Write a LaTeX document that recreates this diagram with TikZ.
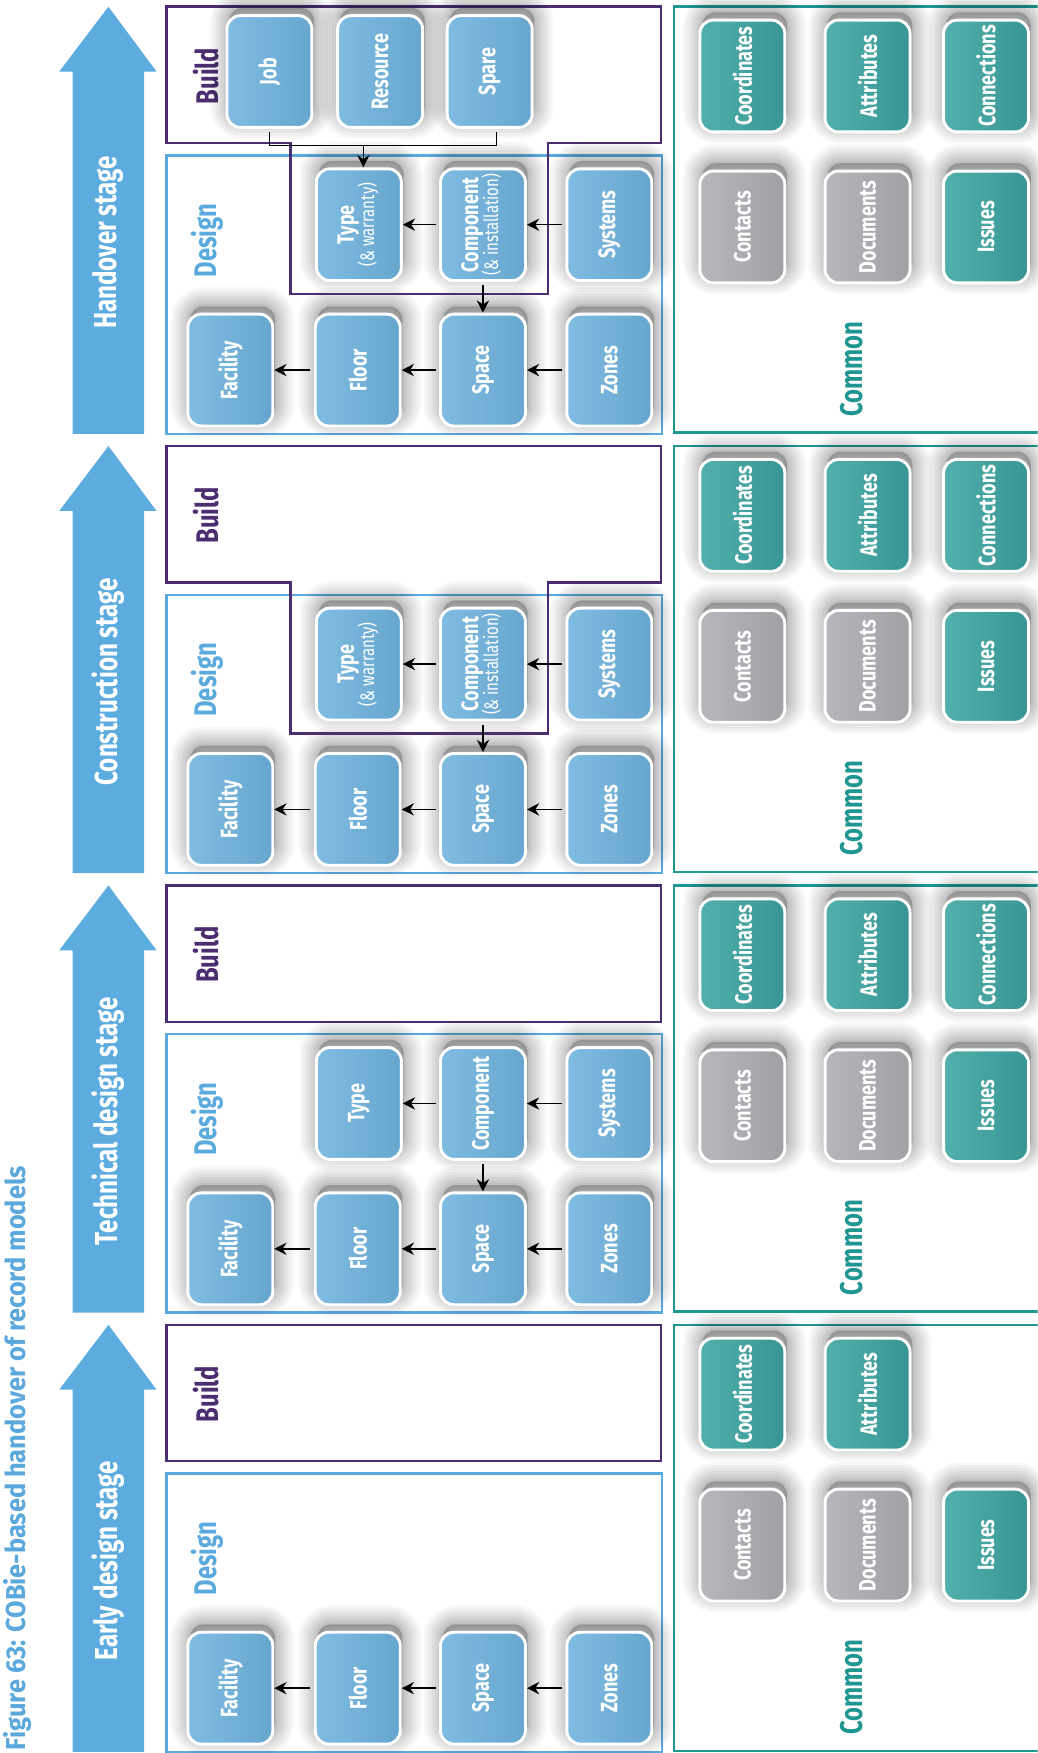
\documentclass[tikz,border=0pt]{standalone}
\usepackage{fontspec}
\usepackage{graphicx}
\usetikzlibrary{arrows.meta,calc}
\newfontfamily\cf{Fira Sans}[FakeStretch=0.76]
\newfontfamily\tf{Fira Sans}[FakeStretch=0.93]
\definecolor{arrowblue}{RGB}{93,172,224}
\definecolor{titleblue}{RGB}{90,168,220}
\definecolor{designblue}{RGB}{90,170,222}
\definecolor{buildpurple}{RGB}{76,46,112}
\definecolor{commonteal}{RGB}{32,150,146}
\definecolor{nodeblueD}{RGB}{102,166,206}
\definecolor{nodeblueL}{RGB}{128,188,226}
\definecolor{nodetealD}{RGB}{55,150,148}
\definecolor{nodetealL}{RGB}{82,176,172}
\definecolor{nodegrayD}{RGB}{160,160,165}
\definecolor{nodegrayL}{RGB}{182,183,188}
\newcommand\RotT[1]{\rotatebox{90}{#1}}
\newcommand\RotTwo[2]{\rotatebox{90}{\begin{tabular}{@{}c@{}}#1\\[-2.5pt]{\mdseries\fontsize{8.8}{10}\selectfont #2}\end{tabular}}}
\tikzset{
 shl/.style={preaction={draw=black, draw opacity=#1, transform canvas={xshift=1pt,yshift=3.5pt}}},
 softshadow/.style={
  preaction={draw=black, draw opacity=0.03, line width=17pt, transform canvas={xshift=1pt,yshift=3.5pt}},
  preaction={draw=black, draw opacity=0.03, line width=14.5pt, transform canvas={xshift=1pt,yshift=3.5pt}},
  preaction={draw=black, draw opacity=0.035, line width=12pt, transform canvas={xshift=1pt,yshift=3.5pt}},
  preaction={draw=black, draw opacity=0.035, line width=9.5pt, transform canvas={xshift=1pt,yshift=3.5pt}},
  preaction={draw=black, draw opacity=0.04, line width=7pt, transform canvas={xshift=1pt,yshift=3.5pt}},
  preaction={draw=black, draw opacity=0.045, line width=4.5pt, transform canvas={xshift=1pt,yshift=3.5pt}},
  preaction={draw=black, draw opacity=0.05, line width=2pt, transform canvas={xshift=1pt,yshift=3.5pt}},
  preaction={fill=black, fill opacity=0.22, transform canvas={xshift=1pt,yshift=3.5pt}}},
 box/.style={softshadow, draw=white, line width=1.3pt, rounded corners=6pt, minimum width=38pt, minimum height=50pt, inner sep=0pt, text=white, font=\cf\bfseries\fontsize{10.6}{11.5}\selectfont},
 bluebox/.style={box, left color=nodeblueL, right color=nodeblueD},
 tealbox/.style={box, left color=nodetealL, right color=nodetealD},
 graybox/.style={box, left color=nodegrayL, right color=nodegrayD},
 conn/.style={black, line width=0.7pt},
 arr/.style={conn, shorten <=1.5pt, -{Stealth[length=5.5pt,width=5.5pt,inset=1.8pt]}},
 lbl/.style={rotate=90, font=\cf\bfseries\fontsize{14}{16}\selectfont, inner sep=0pt},
 stagetext/.style={rotate=90, text=white, font=\cf\bfseries\fontsize{14.2}{16}\selectfont, inner sep=0pt},
 designline/.style={draw=designblue, line width=1pt},
 buildline/.style={draw=buildpurple, line width=1.1pt},
 commonline/.style={draw=commonteal, line width=1.1pt},
}
\newcommand\CobStage[3]{%
 \fill[arrowblue] (65,#2+388) -- (65,#2+64) -- (53,#2+64) -- (97,#2+6) -- (140,#2+64) -- (129,#2+64) -- (129,#2+388) -- cycle;
 \node[stagetext] (#1st) at (97,#2+217) {#3};
 \draw[designline] (149,#2+139) rectangle (592,#2+388);
 \draw[commonline] (603,#2+6) rectangle (945,#2+387);
 \node[lbl, text=designblue] (#1dl) at (185,#2+215) {Design};
 \node[lbl, text=buildpurple] (#1bl) at (184,#2+68) {Build};
 \node[lbl, text=commonteal] (#1cl) at (762,#2+330) {Common};
 \node[bluebox] (#1fac) at (206,#2+331) {\RotT{Facility}};
 \node[bluebox] (#1flo) at (320,#2+331) {\RotT{Floor}};
 \node[bluebox] (#1spa) at (432,#2+331) {\RotT{Space}};
 \node[bluebox] (#1zon) at (545,#2+331) {\RotT{Zones}};
 \draw[arr] (#1flo.west) -- (#1fac.east);
 \draw[arr] (#1spa.west) -- (#1flo.east);
 \draw[arr] (#1zon.west) -- (#1spa.east);
 \node[tealbox] (#1coo) at (664,#2+68) {\RotT{Coordinates}};
 \node[tealbox] (#1att) at (776,#2+68) {\RotT{Attributes}};
 \node[graybox] (#1con) at (664,#2+203) {\RotT{Contacts}};
 \node[graybox] (#1doc) at (776,#2+203) {\RotT{Documents}};
 \node[tealbox] (#1iss) at (882,#2+203) {\RotT{Issues}};
}
\newcommand\NotchBuild[1]{%
 \draw[buildline] (149,#1+6) -- (591,#1+6) -- (591,#1+128) -- (490,#1+128) -- (490,#1+263) -- (260,#1+263) -- (260,#1+128) -- (149,#1+128) -- cycle;
}
\begin{document}
\begin{tikzpicture}[x=0.5pt,y=-0.5pt]
\clip (0,0) rectangle (928,1568);
\fill[white] (0,0) rectangle (928,1568);

% ---------- Early design stage ----------
\CobStage{e}{1179}{Early design stage}
\draw[buildline] (149,1179+6) rectangle (591,1179+128);

% ---------- Technical design stage ----------
\CobStage{t}{786}{Technical design stage}
\draw[buildline] (149,786+6) rectangle (591,786+128);
\node[bluebox] (ttyp) at (321,786+201) {\RotT{Type}};
\node[bluebox] (tcmp) at (432,786+201) {\RotT{Component}};
\node[bluebox] (tsys) at (545,786+201) {\RotT{Systems}};
\node[tealbox] (tcnx) at (882,786+68) {\RotT{Connections}};
\draw[arr] (tcmp.west) -- (ttyp.east);
\draw[arr] (tsys.west) -- (tcmp.east);
\draw[arr] (tcmp.south) -- (tspa.north);

% ---------- Construction stage ----------
\CobStage{c}{393}{Construction stage}
\NotchBuild{393}
\node[bluebox] (ctyp) at (321,393+201) {\RotTwo{Type}{(\& warranty)}};
\node[bluebox] (ccmp) at (432,393+201) {\RotTwo{Component}{(\& installation)}};
\node[bluebox] (csys) at (545,393+201) {\RotT{Systems}};
\node[tealbox] (ccnx) at (882,393+68) {\RotT{Connections}};
\draw[arr] (ccmp.west) -- (ctyp.east);
\draw[arr] (csys.west) -- (ccmp.east);
\draw[arr] (ccmp.south) -- (cspa.north);

% ---------- Handover stage ----------
\CobStage{h}{0}{Handover stage}
\NotchBuild{0}
\node[bluebox] (htyp) at (321,201) {\RotTwo{Type}{(\& warranty)}};
\node[bluebox] (hcmp) at (432,201) {\RotTwo{Component}{(\& installation)}};
\node[bluebox] (hsys) at (545,201) {\RotT{Systems}};
\node[tealbox] (hcnx) at (882,68) {\RotT{Connections}};
\node[bluebox] (hjob) at (241,64) {\RotT{Job}};
\node[bluebox] (hres) at (340,64) {\RotT{Resource}};
\node[bluebox] (hspr) at (438,64) {\RotT{Spare}};
\draw[arr] (hcmp.west) -- (htyp.east);
\draw[arr] (hsys.west) -- (hcmp.east);
\draw[arr] (hcmp.south) -- (hspa.north);
\coordinate (hbr) at (325,130);
\draw[conn] ([yshift=-1.5pt]hjob.south) |- (hbr) -| ([xshift=3pt,yshift=-1.5pt]hspr.south);
\draw[arr, shorten <=0pt] (hbr) -- (hbr |- htyp.north);

% ---------- Title ----------
\node[rotate=90, anchor=base west, text=titleblue, font=\tf\bfseries\fontsize{12.2}{14}\selectfont, inner sep=0pt] (title) at (23,1566) {Figure 63: COBie-based handover of record models};
\end{tikzpicture}
\end{document}
